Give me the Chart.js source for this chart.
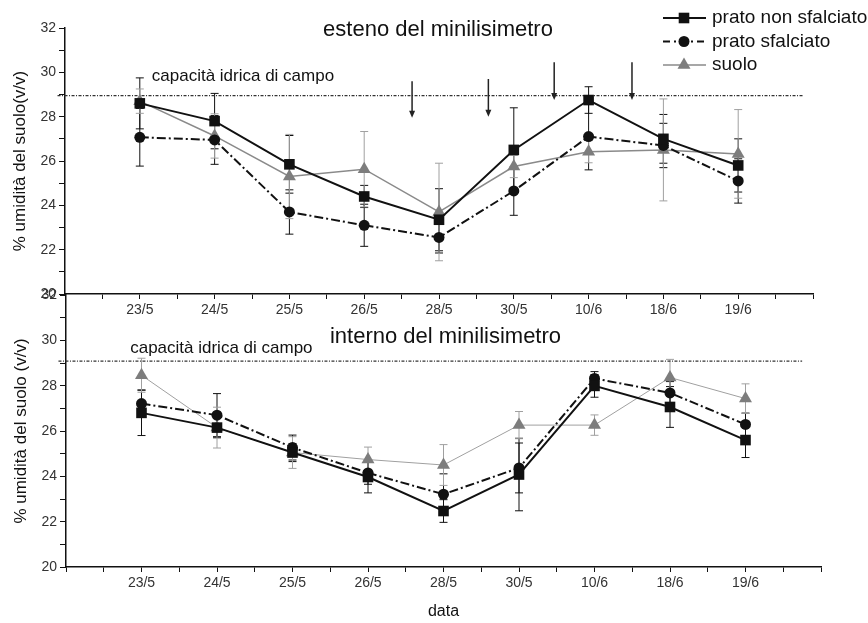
<!DOCTYPE html>
<html lang="it">
<head>
<meta charset="UTF-8">
<title>Umidità del suolo nel minilisimetro</title>
<script src="https://cdn.jsdelivr.net/npm/chart.js"></script>
<style>
  body { margin: 0; background: #fff; }
  #wrap { position: relative; width: 868px; height: 623px; }
  canvas { position: absolute; left: 0; top: 0; }
</style>
</head>
<body>
<div id="wrap">
  <canvas id="topChart" width="868" height="623"></canvas>
  <canvas id="bottomChart" width="868" height="623"></canvas>
</div>
<script>
const dates = ['23/5', '24/5', '25/5', '26/5', '28/5', '30/5', '10/6', '18/6', '19/6'];
const seriesNames = ['prato non sfalciato', 'prato sfalciato', 'suolo'];

// esterno del minilisimetro
const extNonSfalciato    = [28.6, 27.8, 25.85, 24.4, 23.35, 26.5, 28.75, 27.0, 25.8];
const extNonSfalciatoErr = [1.15, 1.25, 1.3, 0.5, 1.4, 1.9, 0.6, 1.1, 1.2];
const extSfalciato       = [27.07, 26.95, 23.7, 23.1, 22.55, 24.65, 27.1, 26.7, 25.1];
const extSfalciatoErr    = [1.3, 1.1, 1.0, 0.95, 0.7, 1.1, 1.5, 1.0, 1.0];
const extSuolo           = [28.7, 27.13, 25.3, 25.63, 23.7, 25.75, 26.42, 26.5, 26.32];
const extSuoloErr        = [0.55, 1.0, 1.9, 1.7, 2.2, 0.5, 0.5, 2.3, 2.0];

// interno del minilisimetro
const intNonSfalciato    = [26.8, 26.15, 25.05, 23.97, 22.47, 24.08, 27.99, 27.06, 25.6];
const intNonSfalciatoErr = [1.0, 0.45, 0.4, 0.7, 0.5, 1.6, 0.5, 0.9, 0.77];
const intSfalciato       = [27.21, 26.7, 25.27, 24.15, 23.21, 24.37, 28.32, 27.68, 26.29];
const intSfalciatoErr    = [0.6, 0.95, 0.55, 0.5, 0.9, 1.1, 0.3, 0.5, 0.5];
const intSuolo           = [28.46, 26.15, 25.05, 24.74, 24.5, 26.26, 26.26, 28.36, 27.43];
const intSuoloErr        = [0.75, 0.9, 0.7, 0.55, 0.9, 0.6, 0.45, 0.8, 0.65];

// capacità idrica di campo
const capacitaEst = 28.95;
const capacitaInt = 29.08;

// frecce (sfalci) sul grafico esterno: posizione x, inizio e punta in % v/v
const arrowX   = [4.64, 5.66, 6.54, 7.58];
const arrowTop = [29.6, 29.7, 30.45, 30.45];
const arrowTip = [27.95, 28.0, 28.75, 28.75];

const FONT = "'Liberation Sans', Arial, sans-serif";

function buildDatasets(vals, errs, cap, capEnd, suoloColor, suoloWidth) {
  const pts = v => v.map((y, i) => ({ x: i + 1, y: y }));
  return [
    { label: seriesNames[0], data: pts(vals[0]), errors: errs[0], errorColor: '#111',
      borderColor: '#111', borderWidth: 2, pointStyle: 'rect', pointRadius: 7.5,
      pointBackgroundColor: '#111', pointBorderWidth: 0 },
    { label: seriesNames[1], data: pts(vals[1]), errors: errs[1], errorColor: '#111',
      borderColor: '#111', borderWidth: 2, borderDash: [9, 3, 2, 3], pointStyle: 'circle', pointRadius: 5.5,
      pointBackgroundColor: '#111', pointBorderWidth: 0 },
    { label: seriesNames[2], data: pts(vals[2]), errors: errs[2], errorColor: '#a0a0a0',
      borderColor: suoloColor, borderWidth: suoloWidth, pointStyle: 'triangle', pointRadius: 7.5,
      pointBackgroundColor: '#7d7d7d', pointBorderWidth: 0 },
    { label: 'capacità idrica di campo', data: [{ x: -0.1, y: cap }, { x: capEnd, y: cap }],
      borderColor: '#333', borderWidth: 1.2, borderDash: [3, 1.5, 1, 1.5], pointRadius: 0, clip: false }
  ];
}

const errorBars = {
  id: 'errorBars',
  beforeDatasetsDraw(chart) {
    const { ctx, scales: { x, y } } = chart;
    chart.data.datasets.forEach(ds => {
      if (!ds.errors) return;
      ctx.save();
      ctx.strokeStyle = ds.errorColor;
      ctx.lineWidth = 1;
      ds.data.forEach((p, i) => {
        const px = x.getPixelForValue(p.x);
        const y1 = y.getPixelForValue(p.y + ds.errors[i]);
        const y2 = y.getPixelForValue(p.y - ds.errors[i]);
        ctx.beginPath();
        ctx.moveTo(px, y1); ctx.lineTo(px, y2);
        ctx.moveTo(px - 4, y1); ctx.lineTo(px + 4, y1);
        ctx.moveTo(px - 4, y2); ctx.lineTo(px + 4, y2);
        ctx.stroke();
      });
      ctx.restore();
    });
  }
};

const panelNotes = {
  id: 'panelNotes',
  afterDraw(chart, args, opts) {
    const { ctx, scales: { x, y }, chartArea } = chart;
    ctx.save();
    ctx.fillStyle = '#111';
    ctx.textBaseline = 'middle';

    // titolo del pannello
    ctx.font = '22px ' + FONT;
    ctx.textAlign = 'center';
    ctx.fillText(opts.title, (chartArea.left + chartArea.right) / 2 + opts.titleShift, y.getPixelForValue(opts.titleY));

    // etichetta capacità idrica
    ctx.font = '17px ' + FONT;
    ctx.textAlign = 'left';
    ctx.fillText('capacità idrica di campo', x.getPixelForValue(opts.capLabelX), y.getPixelForValue(opts.capLabelY));

    // frecce
    if (opts.arrows) {
      ctx.strokeStyle = '#222';
      ctx.fillStyle = '#222';
      ctx.lineWidth = 1.5;
      arrowX.forEach((ax, i) => {
        const px = x.getPixelForValue(ax);
        const y0 = y.getPixelForValue(arrowTop[i]);
        const y1 = y.getPixelForValue(arrowTip[i]);
        ctx.beginPath();
        ctx.moveTo(px, y0); ctx.lineTo(px, y1 - 6);
        ctx.stroke();
        ctx.beginPath();
        ctx.moveTo(px - 3, y1 - 7); ctx.lineTo(px + 3, y1 - 7); ctx.lineTo(px, y1);
        ctx.closePath();
        ctx.fill();
      });
    }

    // legenda
    if (opts.legend) {
      ctx.font = '19px ' + FONT;
      chart.data.datasets.slice(0, 3).forEach((ds, i) => {
        const yy = 18 + i * 23.5;
        ctx.save();
        ctx.strokeStyle = ds.borderColor;
        ctx.lineWidth = ds.borderWidth;
        ctx.setLineDash(i === 1 ? [7, 4, 2, 4] : []);
        ctx.beginPath();
        ctx.moveTo(663, yy); ctx.lineTo(706, yy);
        ctx.stroke();
        ctx.setLineDash([]);
        ctx.fillStyle = ds.pointBackgroundColor;
        Chart.helpers.drawPoint(ctx, { pointStyle: ds.pointStyle, radius: ds.pointRadius, borderWidth: 0, rotation: 0 }, 684, yy);
        ctx.restore();
        ctx.fillStyle = '#111';
        ctx.fillText(ds.label, 712, yy);
      });
    }
    ctx.restore();
  }
};

function axes(opts) {
  return {
    x: {
      type: 'linear', min: 0, max: 10,
      afterFit: s => { s.height = opts.xHeight; },
      border: { color: '#111', width: 1.5 },
      grid: { drawOnChartArea: false, tickLength: 5, tickColor: '#111' },
      ticks: {
        stepSize: 0.5, autoSkip: false, maxTicksLimit: 30, maxRotation: 0, padding: 3,
        color: '#333', font: { size: 14, family: FONT },
        callback: v => (Number.isInteger(v) && v >= 1 && v <= dates.length) ? dates[v - 1] : ''
      },
      title: { display: !!opts.xTitle, text: opts.xTitle || '', color: '#111',
               font: { size: 16, family: FONT }, padding: { top: 0, bottom: 0 } }
    },
    y: {
      min: 20, max: 32,
      afterFit: s => { s.width = 65; },
      border: { color: '#111', width: 1.5 },
      grid: { drawOnChartArea: false, tickLength: 6, tickColor: '#111' },
      ticks: {
        stepSize: 1, autoSkip: false, maxTicksLimit: 30, padding: 3,
        color: '#333', font: { size: 14, family: FONT },
        callback: v => v % 2 === 0 ? v : ''
      },
      title: { display: true, text: opts.yTitle, color: '#111',
               font: { size: 17, family: FONT }, padding: { top: 10, bottom: 0 } }
    }
  };
}

new Chart(document.getElementById('topChart'), {
  type: 'line',
  data: {
    datasets: buildDatasets(
      [extNonSfalciato, extSfalciato, extSuolo],
      [extNonSfalciatoErr, extSfalciatoErr, extSuoloErr],
      capacitaEst, 9.87, '#8a8a8a', 1.5)
  },
  options: {
    responsive: false, animation: false, events: [],
    layout: { padding: { left: 0, top: 28, right: 55, bottom: 299 } },
    scales: axes({ xHeight: 30, yTitle: '% umidità del suolo(v/v)' }),
    plugins: {
      legend: { display: false }, tooltip: { enabled: false },
      panelNotes: { title: 'esteno del minilisimetro', titleY: 31.9, titleShift: -1,
                    capLabelX: 1.16, capLabelY: 29.8, arrows: true, legend: true }
    }
  },
  plugins: [errorBars, panelNotes]
});

new Chart(document.getElementById('bottomChart'), {
  type: 'line',
  data: {
    datasets: buildDatasets(
      [intNonSfalciato, intSfalciato, intSuolo],
      [intNonSfalciatoErr, intSfalciatoErr, intSuoloErr],
      capacitaInt, 9.75, '#a0a0a0', 1)
  },
  options: {
    responsive: false, animation: false, events: [],
    layout: { padding: { left: 1, top: 295, right: 47, bottom: 2 } },
    scales: axes({ xHeight: 54, xTitle: 'data', yTitle: '% umidità del suolo (v/v)' }),
    plugins: {
      legend: { display: false }, tooltip: { enabled: false },
      panelNotes: { title: 'interno del minilisimetro', titleY: 30.14, titleShift: 2,
                    capLabelX: 0.85, capLabelY: 29.67, arrows: false, legend: false }
    }
  },
  plugins: [errorBars, panelNotes]
});
</script>
</body>
</html>
